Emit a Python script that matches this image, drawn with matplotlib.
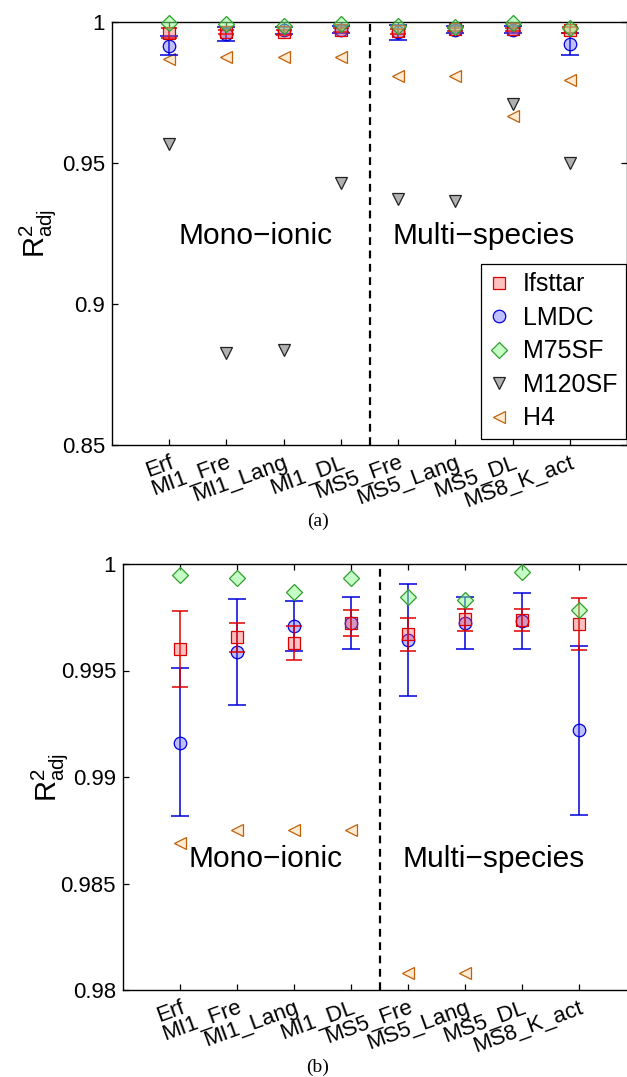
import matplotlib
matplotlib.use("Agg")
import matplotlib.pyplot as plt
import numpy as np

plt.rcParams['font.family'] = ['Liberation Sans', 'DejaVu Sans']
plt.rcParams['mathtext.fontset'] = 'custom'
plt.rcParams['mathtext.rm'] = 'Liberation Sans'
plt.rcParams['mathtext.it'] = 'Liberation Sans:italic'

# data
categories = ['Erf', 'MI1_Fre', 'MI1_Lang', 'MI1_DL',
              'MS5_Fre', 'MS5_Lang', 'MS5_DL', 'MS8_K_act']

ifsttar = [0.99602, 0.99656, 0.99629, 0.99722, 0.99671, 0.99740, 0.99735, 0.99720]
ifsttar_lo = [0.99424, 0.99588, 0.99548, 0.99661, 0.99590, 0.99685, 0.99684, 0.99598]
ifsttar_hi = [0.99781, 0.99722, 0.99710, 0.99783, 0.99746, 0.99789, 0.99787, 0.99839]

lmdc = [0.99161, 0.99587, 0.99710, 0.99722, 0.99643, 0.99722, 0.99732, 0.99219]
lmdc_lo = [0.98815, 0.99339, 0.99590, 0.99600, 0.99379, 0.99600, 0.99600, 0.98820]
lmdc_hi = [0.99510, 0.99837, 0.99828, 0.99844, 0.99908, 0.99845, 0.99864, 0.99617]

m75sf = [0.99950, 0.99934, 0.99867, 0.99934, 0.99844, 0.99831, 0.99964, 0.99784]
m120sf = [0.9566, 0.8825, 0.8838, 0.9430, 0.9372, 0.9365, 0.9708, 0.9499]
h4 = [0.98689, 0.98751, 0.98751, 0.98751, 0.98081, 0.98081, 0.9667, 0.9793]

top_yticks = [0.85, 0.9, 0.95, 1]
top_ylabels = ['0.85', '0.9', '0.95', '1']
bot_yticks = [0.98, 0.985, 0.99, 0.995, 1]
bot_ylabels = ['0.98', '0.985', '0.99', '0.995', '1']

x = np.arange(1, len(categories) + 1)

red = '#dd0000'
blue = '#0000dd'
green = '#2e9e2e'
grey_edge = '#222222'
orange = '#c0600a'

W, H = 627, 1077
fig = plt.figure(figsize=(W / 100, H / 100), dpi=100)


def draw(ax, clip, legend=False, text_y=0.92):
    ms = 8.5
    ax.plot(x, m120sf, 'v', ms=ms, mfc=(0.62, 0.62, 0.62, 0.8), mec=grey_edge,
            mew=0.9, clip_on=clip, label='M120SF', zorder=3)
    ax.plot(x, h4, '<', ms=ms, mfc=(1, 0.85, 0.65, 0.5), mec=orange,
            mew=0.9, clip_on=clip, label='H4', zorder=3)
    ax.errorbar(x, lmdc, yerr=[np.array(lmdc) - np.array(lmdc_lo), np.array(lmdc_hi) - np.array(lmdc)],
                fmt='none', ecolor=blue, elinewidth=1.1, capsize=6.8, capthick=1.1,
                clip_on=clip, zorder=3)
    ax.plot(x, lmdc, 'o', ms=ms + 0.5, mfc=(0.3, 0.3, 1, 0.35), mec=blue,
            mew=0.9, clip_on=clip, label='LMDC', zorder=4)
    ax.errorbar(x, ifsttar, yerr=[np.array(ifsttar) - np.array(ifsttar_lo), np.array(ifsttar_hi) - np.array(ifsttar)],
                fmt='none', ecolor=red, elinewidth=1.1, capsize=6.0, capthick=1.1,
                clip_on=clip, zorder=4)
    ax.plot(x, ifsttar, 's', ms=ms - 0.5, mfc=(1, 0.3, 0.3, 0.35), mec=red,
            mew=0.9, clip_on=clip, label='Ifsttar', zorder=4)
    ax.plot(x, m75sf, 'D', ms=ms - 0.8, mfc=(0.55, 1, 0.55, 0.5), mec=green,
            mew=0.9, clip_on=clip, label='M75SF', zorder=5)

    ax.axvline(4.5, color='black', lw=1.6, ls=(0, (3.5, 2.5)), zorder=2)
    ax.set_xlim(0, 9)
    ax.set_xticks(x)
    ax.set_xticklabels(categories, rotation=20, ha='right', rotation_mode='anchor',
                       fontsize=15)
    ax.tick_params(direction='in', top=True, right=True, length=4, width=0.9,
                   labelsize=16, pad=5)
    for s in ax.spines.values():
        s.set_linewidth(1.0)

    ax.text(2.5, text_y, 'Mono\u2212ionic', fontsize=21.5, ha='center', va='baseline')
    ax.text(6.5, text_y, 'Multi\u2212species', fontsize=21.5, ha='center', va='baseline')

    if legend:
        handles, labels = ax.get_legend_handles_labels()
        order = ['Ifsttar', 'LMDC', 'M75SF', 'M120SF', 'H4']
        hs = [handles[labels.index(o)] for o in order]
        leg = ax.legend(hs, order, loc='lower right', bbox_to_anchor=(0.998, 0.014),
                        borderaxespad=0, fontsize=18, numpoints=1, handlelength=0.7,
                        handletextpad=0.6, labelspacing=0.38, borderpad=0.35,
                        fancybox=False, framealpha=1, edgecolor='black')
        leg.get_frame().set_linewidth(0.9)


# panel (a)
ax1 = fig.add_axes([112 / W, 1 - 445 / H, 515 / W, 423 / H])
draw(ax1, clip=False, legend=True, text_y=0.9213)
ax1.set_ylim(0.85, 1)
ax1.set_yticks(top_yticks)
ax1.set_yticklabels(top_ylabels)
fig.text(38 / W, 1 - 233 / H, r'$\mathrm{R}^2_{\mathrm{adj}}$', fontsize=21,
         rotation=90, ha='center', va='center')
fig.text(318 / W, 1 - 521 / H, '(a)', family='Liberation Serif', fontsize=14,
         ha='center', va='center')

# panel (b)
ax2 = fig.add_axes([123 / W, 1 - 990 / H, 513 / W, 426 / H])
draw(ax2, clip=True, text_y=0.98577)
ax2.set_ylim(0.98, 1)
ax2.set_yticks(bot_yticks)
ax2.set_yticklabels(bot_ylabels)
fig.text(49 / W, 1 - 777 / H, r'$\mathrm{R}^2_{\mathrm{adj}}$', fontsize=21,
         rotation=90, ha='center', va='center')
fig.text(318 / W, 1 - 1067 / H, '(b)', family='Liberation Serif', fontsize=14,
         ha='center', va='center')

fig.savefig('out.png', dpi=100)
